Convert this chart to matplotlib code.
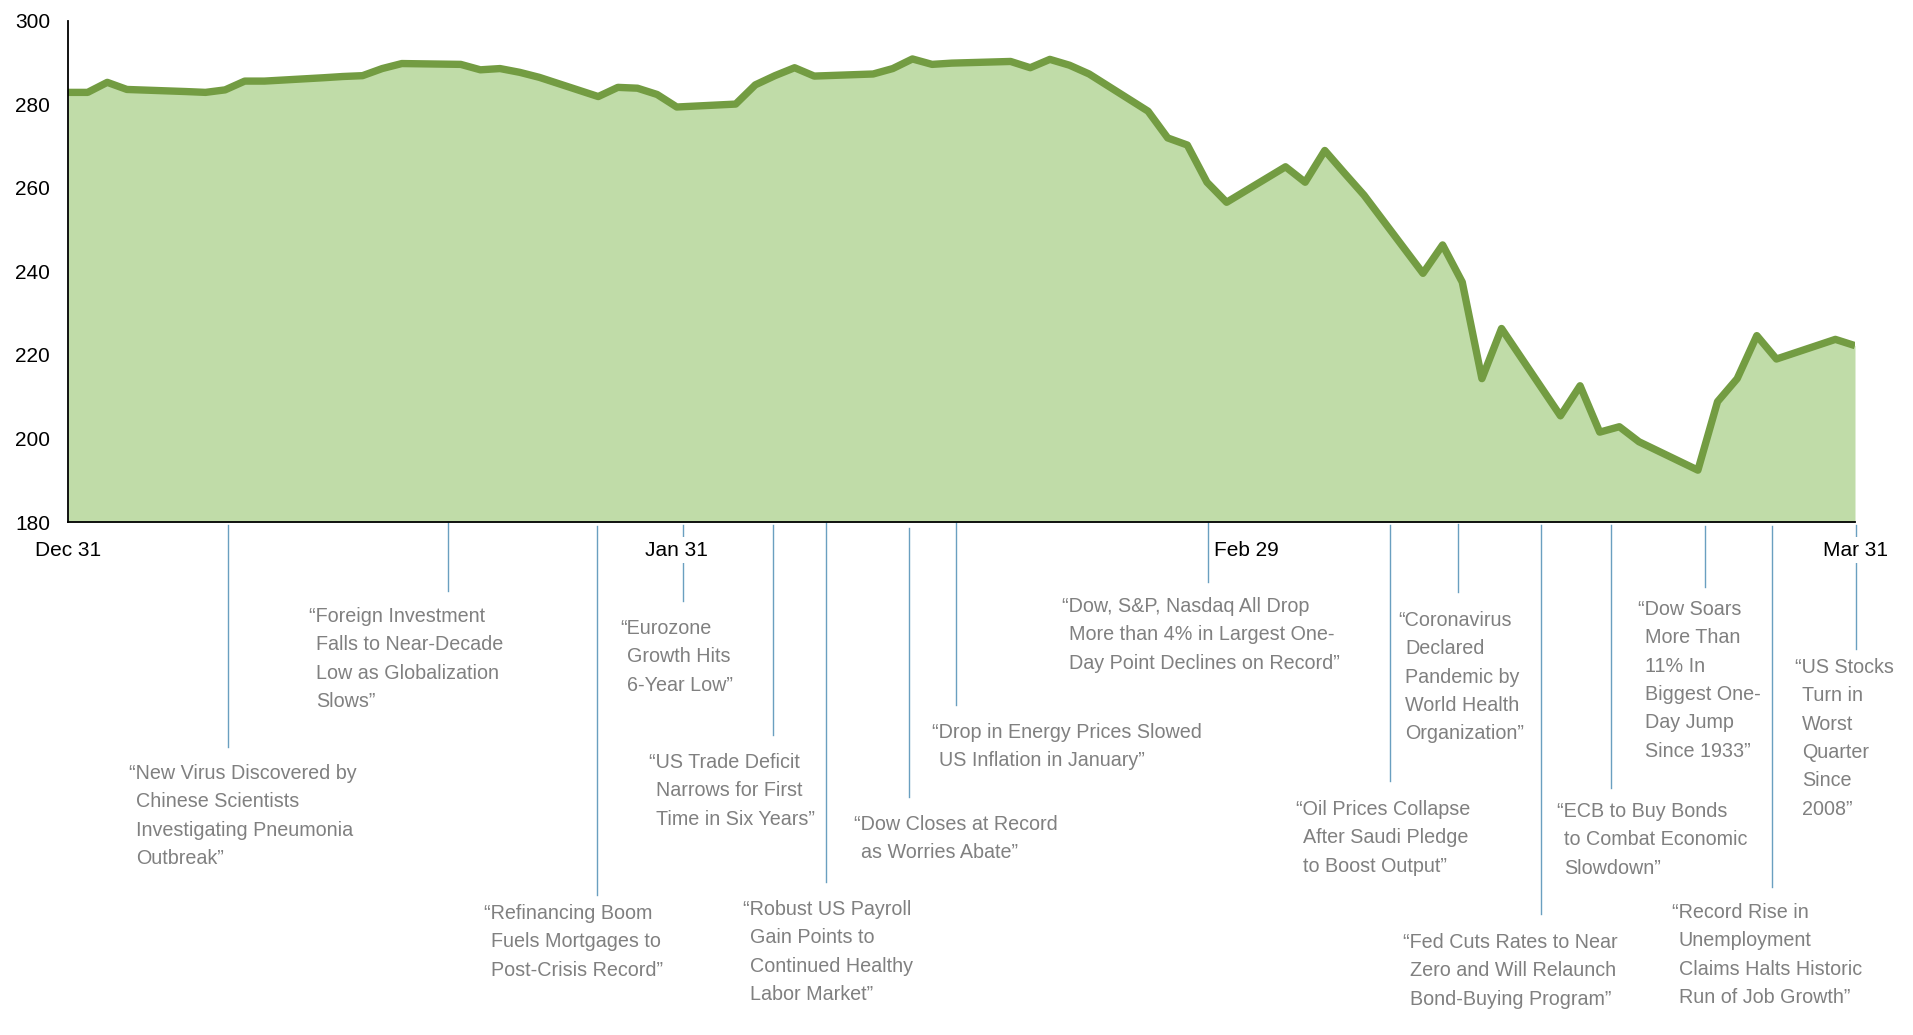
import numpy as np
import pandas as pd
import matplotlib
matplotlib.use("Agg")
import matplotlib.pyplot as plt
from matplotlib import font_manager as fm
from matplotlib.lines import Line2D
from matplotlib import transforms

# ---------------- data ----------------
dates = [
    "2019-12-31", "2020-01-01", "2020-01-02", "2020-01-03", "2020-01-06", "2020-01-07",
    "2020-01-08", "2020-01-09", "2020-01-10", "2020-01-13", "2020-01-14", "2020-01-15",
    "2020-01-16", "2020-01-17", "2020-01-20", "2020-01-21", "2020-01-22", "2020-01-23",
    "2020-01-24", "2020-01-27", "2020-01-28", "2020-01-29", "2020-01-30", "2020-01-31",
    "2020-02-03", "2020-02-04", "2020-02-05", "2020-02-06", "2020-02-07", "2020-02-10",
    "2020-02-11", "2020-02-12", "2020-02-13", "2020-02-14", "2020-02-17", "2020-02-18",
    "2020-02-19", "2020-02-20", "2020-02-21", "2020-02-24", "2020-02-25", "2020-02-26",
    "2020-02-27", "2020-02-28", "2020-03-02", "2020-03-03", "2020-03-04", "2020-03-05",
    "2020-03-06", "2020-03-09", "2020-03-10", "2020-03-11", "2020-03-12", "2020-03-13",
    "2020-03-16", "2020-03-17", "2020-03-18", "2020-03-19", "2020-03-20", "2020-03-23",
    "2020-03-24", "2020-03-25", "2020-03-26", "2020-03-27", "2020-03-30", "2020-03-31",
]
values = [
    282.8, 282.8, 285.2, 283.5, 283.0, 282.8,
    283.4, 285.5, 285.5, 286.3, 286.6, 286.8,
    288.5, 289.7, 289.5, 288.2, 288.5, 287.6,
    286.4, 281.8, 284.0, 283.8, 282.3, 279.3,
    280.0, 284.6, 286.8, 288.7, 286.7, 287.2,
    288.5, 290.8, 289.5, 289.8, 290.2, 288.7,
    290.7, 289.3, 287.2, 278.3, 271.9, 270.2,
    261.3, 256.5, 265.0, 261.3, 268.9, 263.5,
    258.2, 239.5, 246.3, 237.4, 214.3, 226.3,
    205.4, 212.6, 201.5, 202.8, 199.2, 192.4,
    208.8, 214.3, 224.6, 219.0, 223.7, 222.2,
]

tick_dates = ["2019-12-31", "2020-01-31", "2020-02-29", "2020-03-31"]
tick_labels = ["Dec 31", "Jan 31", "Feb 29", "Mar 31"]
y_ticks = [180, 200, 220, 240, 260, 280, 300]

# event markers (position in days after Dec 31) and headline texts
event_days = [8.14, 19.33, 26.94, 31.30, 35.90, 38.62, 42.84, 45.24,
              58.05, 67.30, 70.78, 75.00, 78.56, 83.38, 86.76, 91.04]
event_texts = [
    ["New Virus Discovered by", "Chinese Scientists", "Investigating Pneumonia", "Outbreak"],
    ["Foreign Investment", "Falls to Near-Decade", "Low as Globalization", "Slows"],
    ["Refinancing Boom", "Fuels Mortgages to", "Post-Crisis Record"],
    ["Eurozone", "Growth Hits", "6-Year Low"],
    ["US Trade Deficit", "Narrows for First", "Time in Six Years"],
    ["Robust US Payroll", "Gain Points to", "Continued Healthy", "Labor Market"],
    ["Dow Closes at Record", "as Worries Abate"],
    ["Drop in Energy Prices Slowed", "US Inflation in January"],
    ["Dow, S&P, Nasdaq All Drop", "More than 4% in Largest One-", "Day Point Declines on Record"],
    ["Oil Prices Collapse", "After Saudi Pledge", "to Boost Output"],
    ["Coronavirus", "Declared", "Pandemic by", "World Health", "Organization"],
    ["Fed Cuts Rates to Near", "Zero and Will Relaunch", "Bond-Buying Program"],
    ["ECB to Buy Bonds", "to Combat Economic", "Slowdown"],
    ["Dow Soars", "More Than", "11% In", "Biggest One-", "Day Jump", "Since 1933"],
    ["Record Rise in", "Unemployment", "Claims Halts Historic", "Run of Job Growth"],
    ["US Stocks", "Turn in", "Worst", "Quarter", "Since", "2008"],
]

# ---------------- layout (pixels) ----------------
W, H = 1913, 1035
line_top = [525, 522, 526, 525, 525, 522, 528, 522, 522, 525, 524, 525, 525, 526, 526, 525]
line_bottom = [747, 591, 895, 601, 735, 882, 797, 705, 582, 781, 592, 914, 788, 587, 887, 649]
text_x = [129, 309, 484, 620, 649, 743, 854, 932, 1062, 1296, 1398, 1403, 1557, 1638, 1672, 1795]
text_y = [772, 615, 912, 627, 761, 908, 823, 731, 605, 808, 619, 941, 810, 608, 911, 666]
line_gap = 28.3
indent = 7

fill_color = "#c0dca8"
line_color = "#739c42"
ann_line_color = "#6a9fc0"
text_color = "#808080"


def has_font(name):
    try:
        fm.findfont(fm.FontProperties(family=name), fallback_to_default=False)
        return True
    except Exception:
        return False


if has_font("Liberation Sans Narrow"):
    ann_family, ann_size = "Liberation Sans Narrow", 16.2
else:
    ann_family, ann_size = "Liberation Sans", 14.2
tick_family = "Liberation Sans" if has_font("Liberation Sans") else "DejaVu Sans"

start = pd.Timestamp("2019-12-31")
x = (pd.to_datetime(dates) - start).days.to_numpy().astype(float)
y = np.array(values)
tick_x = (pd.to_datetime(tick_dates) - start).days.to_numpy().astype(float)

fig = plt.figure(figsize=(W / 100, H / 100), dpi=100)
ax = fig.add_axes([68 / W, (H - 522) / H, (1855 - 68) / W, (522 - 20.5) / H])

ax.fill_between(x, y, 180, color=fill_color, linewidth=0, zorder=1)
ax.plot(x, y, color=line_color, linewidth=5.3, solid_joinstyle="round",
        solid_capstyle="butt", zorder=2)

ax.set_xlim(0, 91)
ax.set_ylim(180, 300)
ax.set_yticks(y_ticks)
ax.set_yticklabels([str(v) for v in y_ticks], fontsize=15, family=tick_family, color="black")
ax.set_xticks(tick_x)
ax.set_xticklabels(tick_labels, fontsize=15, family=tick_family, color="black")
for lbl in ax.get_xticklabels():
    lbl.set_bbox(dict(facecolor="white", edgecolor="none", pad=2.5))
ax.tick_params(axis="x", length=0, pad=13.5)
ax.tick_params(axis="y", length=0, pad=13)
for s in ("top", "right"):
    ax.spines[s].set_visible(False)
for s in ("left", "bottom"):
    ax.spines[s].set_color("black")
    ax.spines[s].set_linewidth(1.3)

# annotation leader lines
blend = transforms.blended_transform_factory(ax.transData, fig.transFigure)
for d, t0, t1 in zip(event_days, line_top, line_bottom):
    fig.add_artist(Line2D([d, d], [1 - t0 / H, 1 - t1 / H], transform=blend,
                          color=ann_line_color, linewidth=1.0, zorder=-1))

# annotation texts
F_px = ann_size * 100 / 72
for lines, tx, ty in zip(event_texts, text_x, text_y):
    n = len(lines)
    for i, ln in enumerate(lines):
        s = ln
        if i == 0:
            s = "\u201c" + s
        if i == n - 1:
            s = s + "\u201d"
        xx = tx if i == 0 else tx + indent
        yb = ty + i * line_gap + 0.36 * F_px
        fig.text(xx / W, 1 - yb / H, s, ha="left", va="baseline",
                 fontsize=ann_size, family=ann_family, color=text_color)

fig.savefig("out.png", dpi=100, facecolor="white")
